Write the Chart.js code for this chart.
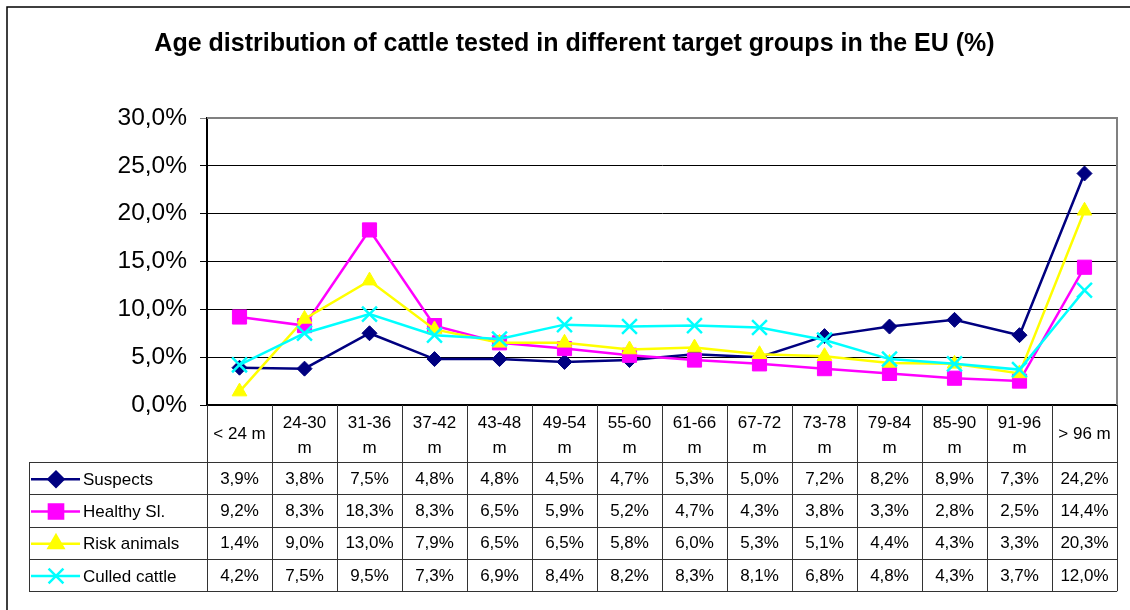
<!DOCTYPE html>
<html>
<head>
<meta charset="utf-8">
<title>Age distribution of cattle tested</title>
<script src="https://cdn.jsdelivr.net/npm/chart.js@4.4.1/dist/chart.umd.min.js"></script>
<style>
  body { margin: 0; background: #fff; }
  canvas { display: block; }
</style>
</head>
<body>
<canvas id="grafico" width="1130" height="610"></canvas>
<script>
const categorias = ['< 24 m', '24-30 m', '31-36 m', '37-42 m', '43-48 m', '49-54 m', '55-60 m',
  '61-66 m', '67-72 m', '73-78 m', '79-84 m', '85-90 m', '91-96 m', '> 96 m'];
const suspects = [3.9, 3.8, 7.5, 4.8, 4.8, 4.5, 4.7, 5.3, 5.0, 7.2, 8.2, 8.9, 7.3, 24.2];
const healthySl = [9.2, 8.3, 18.3, 8.3, 6.5, 5.9, 5.2, 4.7, 4.3, 3.8, 3.3, 2.8, 2.5, 14.4];
const riskAnimals = [1.4, 9.0, 13.0, 7.9, 6.5, 6.5, 5.8, 6.0, 5.3, 5.1, 4.4, 4.3, 3.3, 20.3];
const culledCattle = [4.2, 7.5, 9.5, 7.3, 6.9, 8.4, 8.2, 8.3, 8.1, 6.8, 4.8, 4.3, 3.7, 12.0];
const yMin = 0;
const yMax = 30;
const yPasso = 5;

const FONTE = 'Arial, "Liberation Sans", sans-serif';
const formatarPct = v => v.toFixed(1).replace('.', ',') + '%';

const series = [
  { nome: 'Suspects', dados: suspects, cor: '#000080', estilo: 'rectRot', raio: 7.5 },
  { nome: 'Healthy Sl.', dados: healthySl, cor: '#FF00FF', estilo: 'rect', raio: 10 },
  { nome: 'Risk animals', dados: riskAnimals, cor: '#FFFF00', estilo: 'triangle', raio: 8.5 },
  { nome: 'Culled cattle', dados: culledCattle, cor: '#00FFFF', estilo: 'crossRot', raio: 10.5 },
];

// moldura externa (so topo e esquerda aparecem)
const moldura = {
  id: 'moldura',
  beforeDraw(chart) {
    const ctx = chart.ctx;
    ctx.save();
    ctx.fillStyle = '#fff';
    ctx.fillRect(0, 0, chart.width, chart.height);
    ctx.strokeStyle = '#000';
    ctx.lineWidth = 1.5;
    ctx.beginPath();
    ctx.moveTo(7, chart.height);
    ctx.lineTo(7, 7);
    ctx.lineTo(chart.width, 7);
    ctx.stroke();
    ctx.restore();
  }
};

// tabela de dados abaixo do grafico
const tabelaDados = {
  id: 'tabelaDados',
  afterDraw(chart) {
    const { ctx, chartArea } = chart;
    const x = chart.scales.x;
    const larg = x.width / categorias.length;
    const topo = chartArea.bottom;
    const altCab = 57;
    const altLinha = 32.3;
    const esq = 29;
    const dir = chartArea.right;
    const baseTabela = topo + altCab + altLinha * series.length;

    ctx.save();

    // borda cinza do plot (topo e direita)
    ctx.strokeStyle = '#808080';
    ctx.lineWidth = 2;
    ctx.beginPath();
    ctx.moveTo(chartArea.left, chartArea.top);
    ctx.lineTo(dir, chartArea.top);
    ctx.lineTo(dir, topo);
    ctx.stroke();

    ctx.strokeStyle = '#333';
    ctx.lineWidth = 1;
    ctx.beginPath();
    for (let i = 0; i <= series.length; i++) {
      const y = Math.round(topo + altCab + altLinha * i) + 0.5;
      ctx.moveTo(esq, y);
      ctx.lineTo(dir, y);
    }
    ctx.moveTo(esq + 0.5, topo + altCab);
    ctx.lineTo(esq + 0.5, baseTabela);
    for (let i = 0; i <= categorias.length; i++) {
      const xl = Math.round(chartArea.left + larg * i) + 0.5;
      ctx.moveTo(xl, topo);
      ctx.lineTo(xl, baseTabela);
    }
    ctx.stroke();

    ctx.fillStyle = '#000';
    ctx.font = '17px ' + FONTE;
    ctx.textAlign = 'center';
    ctx.textBaseline = 'middle';

    categorias.forEach((cat, i) => {
      const cx = x.getPixelForValue(i);
      if (ctx.measureText(cat).width > larg - 6) {
        const corte = cat.lastIndexOf(' ');
        ctx.fillText(cat.slice(0, corte), cx, topo + 18);
        ctx.fillText(cat.slice(corte + 1), cx, topo + 43);
      } else {
        ctx.fillText(cat, cx, topo + altCab / 2 + 1);
      }
      series.forEach((s, j) => {
        ctx.fillText(formatarPct(s.dados[i]), cx, topo + altCab + altLinha * (j + 0.5) + 1);
      });
    });

    // legenda dentro da tabela
    series.forEach((s, j) => {
      const cy = topo + altCab + altLinha * (j + 0.5) + 1;
      ctx.strokeStyle = s.cor;
      ctx.lineWidth = 2.5;
      ctx.beginPath();
      ctx.moveTo(31, cy);
      ctx.lineTo(80, cy);
      ctx.stroke();
      ctx.fillStyle = s.cor;
      Chart.helpers.drawPoint(ctx, { pointStyle: s.estilo, radius: s.raio, rotation: 0, borderWidth: 2.5 }, 56, cy);
      ctx.fillStyle = '#000';
      ctx.textAlign = 'left';
      ctx.fillText(s.nome, 83, cy + 1);
    });

    ctx.restore();
  }
};

const ctx = document.getElementById('grafico').getContext('2d');
new Chart(ctx, {
  type: 'line',
  data: {
    labels: categorias,
    datasets: series.map((s, i) => ({
      label: s.nome,
      data: s.dados,
      borderColor: s.cor,
      backgroundColor: s.cor,
      borderWidth: 2.5,
      pointStyle: s.estilo,
      pointRadius: s.raio,
      pointBorderWidth: s.estilo === 'crossRot' ? 2.5 : 1,
      pointBackgroundColor: s.cor,
      pointBorderColor: s.cor,
      tension: 0,
      order: series.length - i,
    })),
  },
  options: {
    responsive: false,
    animation: false,
    layout: { padding: { left: 30, right: 11, top: 0, bottom: 0 } },
    plugins: {
      legend: { display: false },
      tooltip: { enabled: false },
      title: {
        display: true,
        text: 'Age distribution of cattle tested in different target groups in the EU (%)',
        color: '#000',
        font: { family: FONTE, size: 25, weight: 'bold' },
        padding: { top: 29, bottom: 59 },
      },
    },
    scales: {
      x: {
        type: 'category',
        offset: true,
        grid: { display: false },
        ticks: { display: false },
        border: { color: '#000', width: 2 },
        afterFit: scale => { scale.height = 205; },
      },
      y: {
        min: yMin,
        max: yMax,
        ticks: {
          stepSize: yPasso,
          color: '#000',
          padding: 13,
          font: { family: FONTE, size: 24.5 },
          callback: valor => formatarPct(valor),
        },
        grid: {
          color: c => (c.tick && c.tick.value === yMax ? '#808080' : '#000'),
          lineWidth: 1,
          tickLength: 7,
        },
        border: { color: '#000', width: 2 },
        afterFit: scale => { scale.width = 177; },
      },
    },
  },
  plugins: [moldura, tabelaDados],
});
</script>
</body>
</html>
